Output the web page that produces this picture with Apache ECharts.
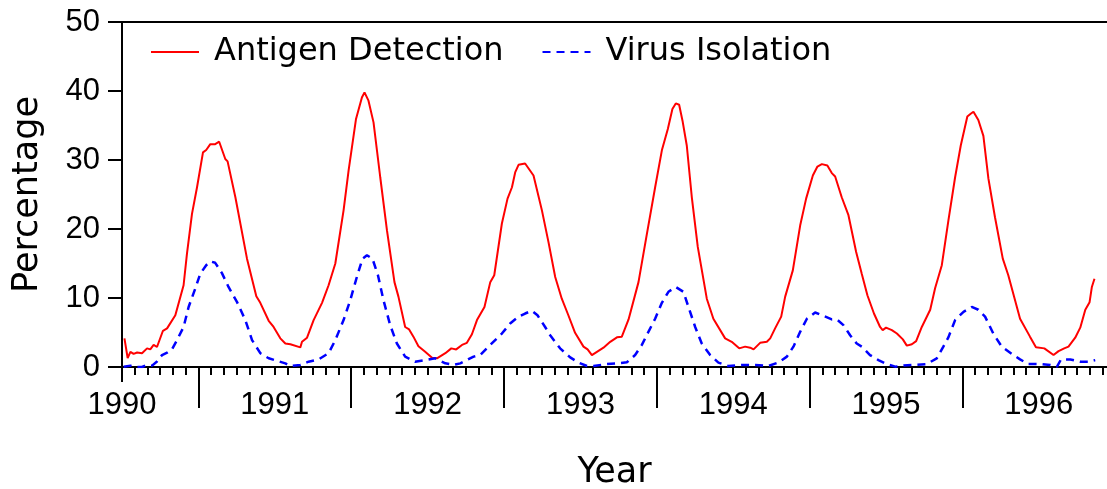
<!DOCTYPE html>
<html>
<head>
<meta charset="utf-8">
<script src="https://cdn.jsdelivr.net/npm/echarts@6/dist/echarts.min.js"></script>
<style>
  html, body { margin: 0; padding: 0; background: #fff; }
  #chart { width: 1107px; height: 489px; }
</style>
</head>
<body>
<div id="chart"></div>
<script>
// year labels on the x axis
const yearLabels = [1990, 1991, 1992, 1993, 1994, 1995, 1996];
const midYearTicks = [1990.5, 1991.5, 1992.5, 1993.5, 1994.5, 1995.5];
const yTicks = [0, 10, 20, 30, 40, 50];

// Antigen Detection (red, solid)
const antigenYears = [
  1990.016, 1990.037, 1990.055, 1990.076, 1990.099, 1990.131, 1990.164, 1990.185, 1990.207, 1990.229,
  1990.268, 1990.295, 1990.349, 1990.403, 1990.425, 1990.458, 1990.491, 1990.530, 1990.551, 1990.578,
  1990.610, 1990.636, 1990.676, 1990.691, 1990.742, 1990.818, 1990.879, 1990.905, 1990.960, 1990.992,
  1991.036, 1991.069, 1991.102, 1991.167, 1991.178, 1991.211, 1991.254, 1991.309, 1991.352, 1991.396,
  1991.450, 1991.483, 1991.531, 1991.570, 1991.587, 1991.613, 1991.646, 1991.690, 1991.734, 1991.783,
  1991.809, 1991.853, 1991.879, 1991.907, 1991.940, 1991.984,
  1992.029, 1992.061, 1992.116, 1992.155, 1992.187, 1992.225, 1992.257, 1992.290, 1992.323, 1992.372,
  1992.410, 1992.436, 1992.486, 1992.523, 1992.552, 1992.573, 1992.595, 1992.638, 1992.693, 1992.748,
  1992.791, 1992.835, 1992.878, 1992.921, 1992.965,
  1993.020, 1993.047, 1993.075, 1993.108, 1993.151, 1993.195, 1993.239, 1993.271, 1993.315, 1993.380,
  1993.435, 1993.489, 1993.533, 1993.572, 1993.602, 1993.624, 1993.646, 1993.668, 1993.696, 1993.729,
  1993.768, 1993.827, 1993.870, 1993.947, 1993.990,
  1994.039, 1994.078, 1994.111, 1994.133, 1994.176, 1994.220, 1994.242, 1994.274, 1994.314, 1994.340,
  1994.390, 1994.438, 1994.477, 1994.521, 1994.551, 1994.580, 1994.616, 1994.645, 1994.667, 1994.710,
  1994.754, 1994.804, 1994.841, 1994.878, 1994.921, 1994.961, 1994.978, 1995.000,
  1995.038, 1995.071, 1995.110, 1995.136, 1995.169, 1995.197, 1995.234, 1995.289, 1995.321, 1995.365,
  1995.408, 1995.452, 1995.489, 1995.532, 1995.554, 1995.572, 1995.604, 1995.637, 1995.670, 1995.713,
  1995.764, 1995.800, 1995.877, 1995.942, 1995.981,
  1996.036, 1996.096, 1996.129, 1996.166, 1996.194, 1996.238, 1996.271, 1996.304, 1996.332, 1996.347,
  1996.364
];
const antigenValues = [
  4.15, 1.3, 2.2, 1.9, 2.1, 2.0, 2.7, 2.55, 3.2, 2.9,
  5.25, 5.6, 7.5, 11.85, 16.4, 22.2, 26.05, 31.1, 31.45, 32.3,
  32.3, 32.65, 30.15, 29.8, 24.6, 15.7, 10.26, 9.3, 6.7, 5.8,
  4.15, 3.4, 3.3, 2.85, 3.65, 4.25, 6.8, 9.3, 11.85, 15,
  22.7, 28.5, 35.9, 39.05, 39.8, 38.6, 35.45, 27.5, 19.8, 12.3,
  10.2, 5.8, 5.45, 4.4, 3.0, 2.2,
  1.35, 1.26, 2.0, 2.7, 2.55, 3.2, 3.5, 4.75, 6.8, 8.7,
  12.3, 13.3, 20.8, 24.4, 26.05, 28.2, 29.3, 29.5, 27.75, 22.7,
  18.1, 13.05, 9.9, 7.5, 4.95,
  2.95, 2.55, 1.73, 2.2, 2.8, 3.65, 4.3, 4.4, 6.9, 12.3,
  19.3, 26.05, 31.4, 34.5, 37.4, 38.2, 38.0, 35.7, 32.1, 24.6,
  17.4, 9.9, 7.0, 4.15, 3.65,
  2.7, 2.95, 2.8, 2.55, 3.5, 3.65, 4.15, 5.6, 7.3, 10.2,
  14.0, 20.5, 24.4, 27.75, 29.05, 29.4, 29.2, 28.1, 27.6, 24.6,
  22.0, 16.7, 13.5, 10.4, 7.75, 5.8, 5.35, 5.7,
  5.35, 4.85, 4.0, 3.1, 3.3, 3.75, 5.8, 8.3, 11.4, 14.75,
  21.2, 27.5, 32.1, 36.3, 36.7, 37.0, 35.8, 33.5, 27.3, 21.7,
  15.7, 13.3, 7.0, 4.4, 2.85,
  2.7, 1.73, 2.3, 2.7, 2.95, 4.25, 5.7, 8.3, 9.4, 11.6,
  12.8
];

// Virus Isolation (blue, dashed)
const virusYears = [
  1990.011, 1990.055, 1990.099, 1990.131, 1990.164, 1990.197, 1990.229, 1990.262, 1990.295, 1990.327,
  1990.360, 1990.403, 1990.436, 1990.480, 1990.512, 1990.551, 1990.578, 1990.610, 1990.654, 1990.697,
  1990.753, 1990.807, 1990.851, 1990.905, 1990.960,
  1991.015, 1991.069, 1991.102, 1991.167, 1991.221, 1991.286, 1991.352, 1991.396, 1991.450, 1991.494,
  1991.537, 1991.574, 1991.603, 1991.639, 1991.675, 1991.711, 1991.755, 1991.799, 1991.853, 1991.918,
  1991.984,
  1992.050, 1992.116, 1992.170, 1992.214, 1992.301, 1992.344, 1992.410, 1992.486, 1992.540, 1992.595,
  1992.638, 1992.682, 1992.719, 1992.769, 1992.802, 1992.867, 1992.933, 1992.987,
  1993.043, 1993.086, 1993.173, 1993.228, 1993.304, 1993.358, 1993.402, 1993.445, 1993.489, 1993.533,
  1993.576, 1993.624, 1993.674, 1993.707, 1993.751, 1993.794, 1993.849, 1993.903, 1993.968,
  1994.057, 1994.144, 1994.231, 1994.296, 1994.351, 1994.394, 1994.438, 1994.482, 1994.536, 1994.591,
  1994.645, 1994.678, 1994.721, 1994.765, 1994.808, 1994.841, 1994.895, 1994.950, 1995.004,
  1995.060, 1995.114, 1995.179, 1995.267, 1995.332, 1995.375, 1995.408, 1995.452, 1995.507, 1995.561,
  1995.604, 1995.648, 1995.702, 1995.757, 1995.823, 1995.877, 1995.931,
  1996.009, 1996.075, 1996.119, 1996.145, 1996.206, 1996.271, 1996.325, 1996.369
];
const virusValues = [
  0.05, 0.2, 0, 0, 0.3, 0.2, 0.8, 1.73, 2.07, 2.55,
  3.9, 5.8, 8.7, 11.4, 13.5, 14.75, 15.3, 15.1, 13.6, 11.6,
  9.4, 6.8, 3.9, 2.0, 1.26,
  0.9, 0.53, 0.15, 0.3, 0.77, 1.1, 2.0, 3.9, 6.8, 9.7,
  13.05, 15.7, 16.2, 15.7, 13.3, 9.7, 6.07, 3.4, 1.5, 0.77,
  1.0,
  1.26, 0.53, 0.3, 0.53, 1.5, 1.73, 3.2, 4.85, 6.3, 7.3,
  7.75, 8.15, 7.5, 5.8, 4.6, 2.7, 1.4, 0.63,
  0.15, 0.15, 0.43, 0.5, 0.68, 1.73, 3.2, 5.1, 7.0, 9.3,
  10.9, 11.6, 10.9, 8.7, 5.8, 3.4, 1.73, 0.63, 0.15,
  0.3, 0.3, 0.15, 0.65, 1.5, 2.95, 5.1, 7.0, 7.9, 7.4,
  6.9, 6.9, 6.07, 4.6, 3.4, 2.95, 1.73, 1.0, 0.43,
  0.05, 0.2, 0.3, 0.43, 1.26, 2.95, 4.3, 6.8, 8.0, 8.7,
  8.3, 7.3, 4.85, 2.95, 1.9, 1.1, 0.43,
  0.43, 0.3, 0.05, 1.1, 1.1, 0.77, 0.77, 1.0
];

const xMin = 1990;
const xMax = 1996.446;

// monthly small ticks
var monthTicks = [];
for (var m = 0; xMin + m / 12 <= xMax; m++) {
  monthTicks.push(xMin + m / 12);
}

function pairs(xs, ys) {
  var out = [];
  for (var i = 0; i < xs.length; i++) out.push([xs[i], ys[i]]);
  return out;
}

var myChart = echarts.init(document.getElementById('chart'));

var baseX = {
  type: 'value',
  min: xMin,
  max: xMax,
  position: 'bottom',
  splitLine: { show: false },
  axisLine: { show: false },
  axisLabel: { show: false },
  axisTick: { show: false }
};

var option = {
  animation: false,
  backgroundColor: '#fff',
  grid: { left: 122, right: 0, top: 22, bottom: 122, containLabel: false, outerBoundsMode: 'none' },
  legend: {
    left: 145,
    top: 31,
    itemWidth: 48,
    itemHeight: 14,
    itemGap: 38,
    // hide the symbol, keep only the line sample
    itemStyle: { opacity: 0, color: 'transparent', borderWidth: 0 },
    textStyle: {
      fontFamily: 'DejaVu Sans',
      fontSize: 32,
      color: '#000',
      padding: [0, 0, 0, 10]
    },
    data: ['Antigen Detection', 'Virus Isolation']
  },
  xAxis: [
    Object.assign({}, baseX, {
      name: 'Year',
      nameLocation: 'middle',
      nameGap: 88,
      nameTextStyle: { fontFamily: 'DejaVu Sans', fontSize: 35, color: '#000' },
      axisLine: { show: true, lineStyle: { color: '#000', width: 2 } },
      axisTick: { show: true, customValues: [1990], length: 15, lineStyle: { color: '#000', width: 2 } },
      axisLabel: {
        show: true,
        customValues: yearLabels,
        margin: 23,
        fontFamily: 'Liberation Sans',
        fontSize: 31,
        color: '#000',
        formatter: function (v) { return String(Math.round(v)); }
      }
    }),
    Object.assign({}, baseX, {
      axisTick: { show: true, customValues: monthTicks, length: 8, lineStyle: { color: '#000', width: 2 } }
    }),
    Object.assign({}, baseX, {
      axisTick: { show: true, customValues: midYearTicks, length: 41, lineStyle: { color: '#000', width: 2 } }
    }),
    Object.assign({}, baseX, {
      position: 'top',
      axisLine: { show: true, lineStyle: { color: '#000', width: 2 } }
    })
  ],
  yAxis: {
    type: 'value',
    min: 0,
    max: 50,
    interval: 10,
    name: 'Percentage',
    nameLocation: 'middle',
    nameRotate: 90,
    nameGap: 77,
    nameTextStyle: { fontFamily: 'DejaVu Sans', fontSize: 35, color: '#000' },
    splitLine: { show: false },
    axisLine: { show: true, lineStyle: { color: '#000', width: 2 } },
    axisTick: { show: true, length: 14, lineStyle: { color: '#000', width: 2 } },
    axisLabel: {
      margin: 22,
      fontFamily: 'Liberation Sans',
      fontSize: 31,
      color: '#000',
      customValues: yTicks
    }
  },
  series: [
    {
      name: 'Antigen Detection',
      type: 'line',
      xAxisIndex: 0,
      symbol: 'none',
      color: '#ff0000',
      lineStyle: { color: '#ff0000', width: 2 },
      data: pairs(antigenYears, antigenValues)
    },
    {
      name: 'Virus Isolation',
      type: 'line',
      xAxisIndex: 0,
      symbol: 'none',
      color: '#0000ff',
      lineStyle: { color: '#0000ff', width: 2.5, type: [8, 6] },
      data: pairs(virusYears, virusValues)
    }
  ]
};

myChart.setOption(option);
</script>
</body>
</html>
